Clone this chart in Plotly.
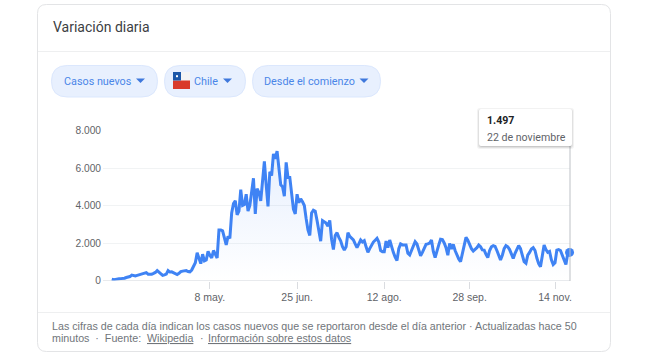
import pandas as pd
import plotly.graph_objects as go

W, H = 660, 360

start_date = "2020-03-15"
cases = [
    70, 40, 60, 90, 90, 100, 100, 120, 160, 180,
    210, 290, 270, 240, 270, 300, 290, 330, 360, 420,
    340, 320, 340, 380, 430, 530, 440, 330, 270, 300,
    340, 530, 450, 460, 400, 360, 320, 380, 470, 500,
    510, 530, 480, 460, 560, 800, 950, 1475, 1200, 900,
    1400, 1050, 1100, 1550, 1350, 1200, 1600, 1400, 1200, 2700,
    2700, 2650, 2300, 1900, 2350, 2250, 3600, 4100, 4250, 3500,
    3700, 4850, 4000, 4050, 4600, 3700, 4000, 4700, 5450, 3550,
    4900, 4700, 4250, 5300, 6350, 5100, 3950, 5800, 5600, 6750,
    6500, 6900, 6000, 5100, 5000, 4500, 6300, 5500, 5500, 4500,
    3800, 3550, 4600, 4150, 4350, 4200, 4000, 3300, 2700, 2400,
    3600, 3750, 3700, 3200, 2600, 2100, 3190, 3100, 3060, 2900,
    3200, 2200, 1650, 2400, 2550, 2300, 2120, 1800, 1630, 1800,
    2550, 2350, 2250, 2170, 1950, 1750, 1950, 2160, 2050, 2120,
    1800, 1500, 1700, 1900, 2050, 2150, 2250, 2050, 1600, 1540,
    1540, 2100, 1750, 2160, 1800, 1500, 1250, 1060, 1700, 1950,
    1900, 1920, 1900, 1450, 1360, 1600, 1850, 2070, 1950, 1650,
    1320, 1500, 1750, 1930, 1950, 2000, 2160, 1550, 1220, 1500,
    1900, 2200, 2180, 2000, 1750, 1350, 1980, 1680, 1930, 1600,
    1350, 1150, 1000, 1400, 1900, 2300, 2150, 1900, 1700, 1570,
    1650, 1750, 1890, 1800, 1630, 1620, 1400, 1220, 1600, 1800,
    1860, 1820, 1600, 1350, 1100, 1350, 1700, 1860, 1800, 1650,
    1400, 1180, 1450, 1700, 1860, 1700, 1400, 1000, 920, 1350,
    1500, 1680, 1750, 1600, 1200, 900, 740, 1300, 1890, 1650,
    1500, 1550, 1100, 850, 950, 1620, 1650, 1600, 1350, 1000,
    850, 1450, 1497,
]
dates = pd.date_range(start_date, periods=len(cases), freq="D")

x_tick_dates = ["2020-05-08", "2020-06-25", "2020-08-12", "2020-09-28", "2020-11-14"]
x_tick_labels = ["8 may.", "25 jun.", "12 ago.", "28 sep.", "14 nov."]
y_tick_values = [0, 2000, 4000, 6000, 8000]
y_tick_labels = ["0", "2.000", "4.000", "6.000", "8.000"]

BLUE = "#3f83f4"
PILL_TEXT = "#4a86e8"
GREY = "#70757a"
LABEL = "#5f6368"
SANS = "Roboto, Arial, sans-serif"
ARIAL = "Liberation Sans, Arial, sans-serif"


def px(x):
    return x / W


def py(y):
    return 1 - y / H


def rrect(x0, y0, x1, y1, r):
    P = lambda a, b: f"{px(a):.5f},{py(b):.5f}"
    return (
        f"M{P(x0 + r, y0)} L{P(x1 - r, y0)} Q{P(x1, y0)} {P(x1, y0 + r)} "
        f"L{P(x1, y1 - r)} Q{P(x1, y1)} {P(x1 - r, y1)} L{P(x0 + r, y1)} "
        f"Q{P(x0, y1)} {P(x0, y1 - r)} L{P(x0, y0 + r)} Q{P(x0, y0)} {P(x0 + r, y0)} Z"
    )


def poly(pts):
    return "M" + " L".join(f"{px(a):.5f},{py(b):.5f}" for a, b in pts) + " Z"


shapes = []


def add_path(path, fill=None, line=None, lw=1, layer="above", opacity=1):
    shapes.append(dict(type="path", path=path, xref="paper", yref="paper",
                       fillcolor=fill or "rgba(0,0,0,0)",
                       line=dict(color=line or "rgba(0,0,0,0)", width=lw if line else 0),
                       layer=layer, opacity=opacity))


def add_line(x0, y0, x1, y1, color, lw=1, layer="above"):
    shapes.append(dict(type="line", xref="paper", yref="paper", x0=px(x0), x1=px(x1),
                       y0=py(y0), y1=py(y1), line=dict(color=color, width=lw), layer=layer))


# card
add_path(rrect(37.5, 4.5, 610.5, 351.5, 9), fill="white", line="#e3e4e6", layer="below")
add_line(38, 51.5, 610, 51.5, "#eeeff0", layer="below")
add_line(38, 312.5, 610, 312.5, "#eeeff0", layer="below")

# pills
for a, b in [(51.5, 157.5), (164.5, 245.5), (252.5, 380.5)]:
    add_path(rrect(a, 65.5, b, 97, 15.7), fill="#e8f0fe", line="#dbe7fd", layer="below")
for cx in [140.5, 227.5, 364]:
    add_path(poly([(cx - 4.5, 78.5), (cx + 4.5, 78.5), (cx, 83)]), fill="#3f78dc", layer="below")

# flag
add_path(poly([(173, 72), (190, 72), (190, 89), (173, 89)]), fill="#f4f4f4", layer="below")
add_path(poly([(173, 80.5), (190, 80.5), (190, 89), (173, 89)]), fill="#d93a2b", layer="below")
add_path(poly([(173, 72), (181, 72), (181, 80.5), (173, 80.5)]), fill="#1c57a8", layer="below")
add_path(poly([(176, 75.2), (178, 75.2), (178, 77.2), (176, 77.2)]), fill="white", layer="below")

# hover guide
add_line(570, 146, 570, 281, "#bdc1c6")

# tooltip
for off, op in [(3, 0.05), (2, 0.07), (1, 0.10)]:
    add_path(rrect(479 - off + 1, 109 - off + 2, 572 + off - 1, 146 + off, 3),
             fill="black", opacity=op)
add_path(rrect(479, 109, 572, 146, 2), fill="white")


def text(x, y, s, size, color, family=SANS, anchor="left"):
    return dict(x=px(x), y=py(y), xref="paper", yref="paper", text=s, showarrow=False,
                xanchor=anchor, yanchor="middle", align="left",
                font=dict(size=size, color=color, family=family), borderpad=0)


annotations = [
    text(51.5, 27, "Variación diaria", 14, "#3c4043"),
    text(62.5, 81.5, "Casos nuevos", 10.8, PILL_TEXT),
    text(192.5, 81.5, "Chile", 10.8, PILL_TEXT),
    text(262.5, 81.5, "Desde el comienzo", 10.8, PILL_TEXT),
    text(485.5, 120.5, "<b>1.497</b>", 10.6, "#202124"),
    text(485.5, 137, "22 de noviembre", 10.6, LABEL),
    text(51, 326, "Las cifras de cada día indican los casos nuevos que se reportaron desde el día anterior · Actualizadas hace 50", 10.7, GREY, ARIAL),
    text(51, 338, "minutos  ·  Fuente:", 10.7, GREY, ARIAL),
    text(146, 338, "<u>Wikipedia</u>", 10.7, GREY, ARIAL),
    text(199, 338, "·", 10.7, GREY, ARIAL),
    text(207, 338, "<u>Información sobre estos datos</u>", 10.7, GREY, ARIAL),
]

fig = go.Figure()
fig.add_trace(go.Scatter(
    x=dates, y=cases, mode="lines",
    line=dict(color=BLUE, width=3, shape="linear"),
    fill="tozeroy",
    fillcolor="rgba(66,133,244,0.06)",
    fillgradient=dict(type="vertical",
                      colorscale=[[0, "rgba(66,133,244,0.0)"], [1, "rgba(66,133,244,0.13)"]]),
    hoverinfo="skip", showlegend=False,
))
fig.add_trace(go.Scatter(
    x=dates[-1:], y=cases[-1:], mode="markers",
    marker=dict(color=BLUE, size=9),
    hoverinfo="skip", showlegend=False, cliponaxis=False,
))

fig.update_layout(
    width=W, height=H,
    margin=dict(l=0, r=0, t=0, b=0, autoexpand=False),
    paper_bgcolor="white", plot_bgcolor="rgba(0,0,0,0)",
    shapes=shapes, annotations=annotations,
    xaxis=dict(
        automargin=False,
        domain=[px(103), px(570)],
        range=["2020-03-10 04:00", "2020-11-22 06:00"],
        type="date", showgrid=False, zeroline=False, showline=False,
        tickmode="array", tickvals=x_tick_dates, ticktext=x_tick_labels,
        ticks="outside", ticklen=7, tickwidth=1, tickcolor="#dadce0",
        tickfont=dict(size=10.5, color=LABEL, family=ARIAL),
        tickangle=0,
    ),
    yaxis=dict(
        automargin=False,
        domain=[py(280.5), py(130.5)],
        range=[0, 8000],
        showgrid=True, gridcolor="#f1f3f4", gridwidth=1,
        zeroline=True, zerolinecolor="#e8eaed", zerolinewidth=1, showline=False,
        tickmode="array", tickvals=y_tick_values, ticktext=y_tick_labels,
        ticks="", ticklabelstandoff=1,
        tickfont=dict(size=10.2, color=LABEL, family=ARIAL),
    ),
)

fig.write_html("out.html", config={"displayModeBar": False},
               post_script="document.body.style.margin='0';document.body.style.overflow='hidden';")
